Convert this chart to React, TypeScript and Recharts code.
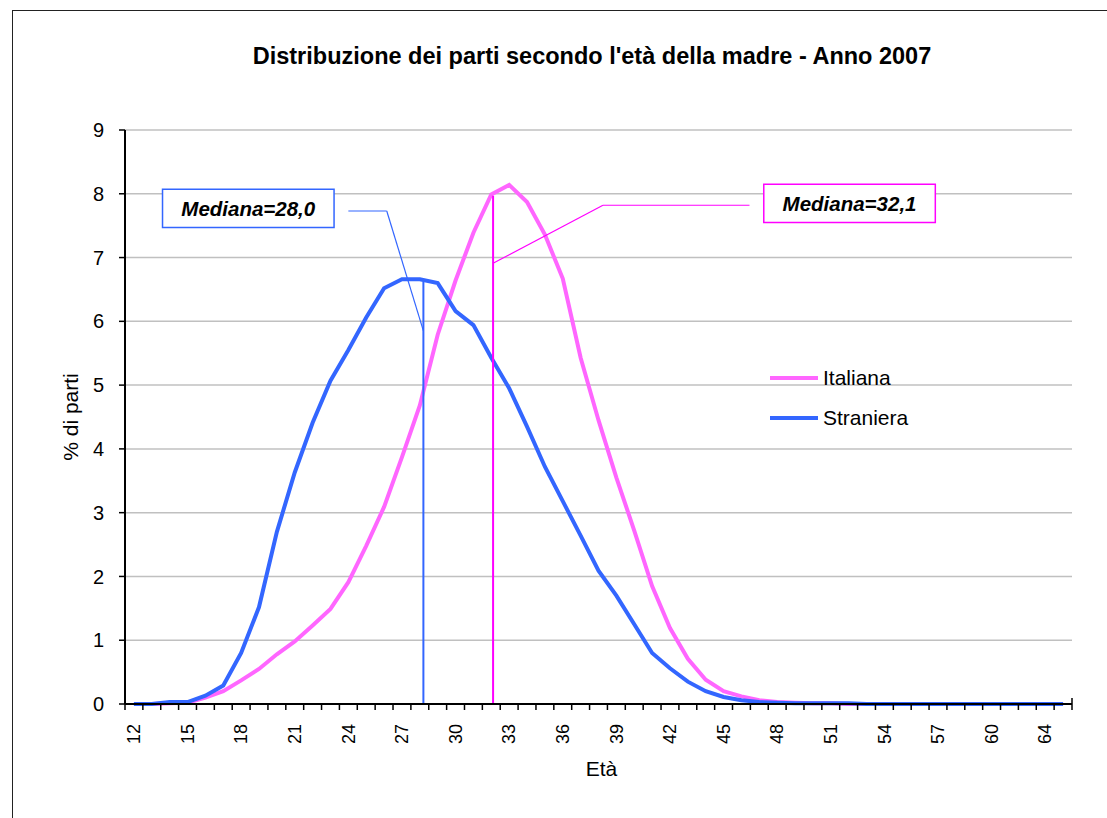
import React from 'react';
import {
  LineChart, Line, XAxis, YAxis, CartesianGrid, Legend, ReferenceLine, ReferenceArea,
} from 'recharts';

// ---- data ----
const ages: string[] = [
  '12','13','14','15','16','17','18','19','20','21',
  '22','23','24','25','26','27','28','29','30','31',
  '32','33','34','35','36','37','38','39','40','41',
  '42','43','44','45','46','47','48','49','50','51',
  '52','53','54','55','56','57','58','59','60','61','62',
  '64','65',
];
const italiana: number[] = [
  0, 0, 0.01, 0.02, 0.1, 0.2, 0.37, 0.55, 0.78, 0.98,
  1.23, 1.49, 1.91, 2.48, 3.09, 3.87, 4.68, 5.79, 6.64, 7.39,
  7.99, 8.14, 7.87, 7.36, 6.67, 5.43, 4.45, 3.55, 2.72, 1.85,
  1.19, 0.71, 0.38, 0.2, 0.12, 0.06, 0.03, 0.02, 0.01, 0.01,
  0, 0, 0, 0, 0, 0, 0, 0, 0, 0, 0,
  0, 0,
];
const straniera: number[] = [
  0, 0, 0.03, 0.03, 0.13, 0.29, 0.8, 1.52, 2.7, 3.63,
  4.41, 5.07, 5.55, 6.06, 6.52, 6.66, 6.66, 6.6, 6.16, 5.94,
  5.43, 4.95, 4.35, 3.72, 3.18, 2.64, 2.09, 1.7, 1.25, 0.8,
  0.56, 0.35, 0.2, 0.11, 0.06, 0.03, 0.02, 0.01, 0.01, 0.01,
  0.01, 0, 0, 0, 0, 0, 0, 0, 0, 0, 0,
  0, 0,
];
const yTicks: number[] = [0, 1, 2, 3, 4, 5, 6, 7, 8, 9];

// median annotations (positions on the age axis / percentages)
const medianText: string[] = ['Mediana=28,0', 'Mediana=32,1'];
const medianAge: number[] = [28.2, 32.1];
const medianTop: number[] = [6.62, 7.97];
const calloutStartX: number[] = [24.0, 46.45];
const calloutElbowX: number[] = [26.15, 38.25];
const calloutY: number[] = [7.73, 7.82];
const calloutEndY: number[] = [5.85, 6.91];
const boxX1: number[] = [13.6, 47.25];
const boxX2: number[] = [23.2, 56.85];
const boxY1: number[] = [7.47, 7.55];
const boxY2: number[] = [8.07, 8.15];

// each category sits at an evenly spaced slot on the axis (12, 13, ... one slot per category)
const FIRST = 12;
const slots: number[] = ages.map((_, i) => FIRST + i);
const data = ages.map((a, i) => ({ pos: slots[i], age: a, Italiana: italiana[i], Straniera: straniera[i] }));

const W = 1107;
const H = 818;
const M = { top: 130, right: 35, bottom: 64, left: 65 };
const Y_W = 60;
const X_H = 50;
const PLOT_W = W - M.left - Y_W - M.right;
const BW = PLOT_W / ages.length;

const PINK = '#ff66ff';
const BLUE = '#3366ff';
const MAGENTA = '#ff00ff';
const annotColor = [BLUE, MAGENTA];
const FONT = '"Liberation Sans", Arial, sans-serif';

const XTick = (props: any) => {
  const { x, y, payload } = props;
  const idx = Math.round(payload.value - FIRST);
  const ty = y + 20;
  return (
    <g>
      <line x1={x - BW / 2} x2={x - BW / 2} y1={y} y2={y + 6} stroke="#000" strokeWidth={1.5} />
      {idx === ages.length - 1 && (
        <line x1={x + BW / 2} x2={x + BW / 2} y1={y - 6} y2={y + 6} stroke="#000" strokeWidth={1.5} />
      )}
      {idx % 3 === 0 && (
        <text
          x={x}
          y={ty}
          dy="0.35em"
          textAnchor="end"
          transform={`rotate(-90 ${x} ${ty})`}
          fontSize={18}
          fill="#000"
          fontFamily={FONT}
        >
          {ages[idx]}
        </text>
      )}
    </g>
  );
};

const boxLabel = (text: string) => (props: any) => {
  const vb = props.viewBox || {};
  return (
    <text
      x={vb.x + vb.width / 2}
      y={vb.y + vb.height / 2}
      dy="0.35em"
      textAnchor="middle"
      fontSize={20.5}
      fontWeight="bold"
      fontStyle="italic"
      fill="#000"
      fontFamily={FONT}
    >
      {text}
    </text>
  );
};

const LegendContent = (props: any) => {
  const items = props.payload || [];
  return (
    <div style={{ fontFamily: FONT, fontSize: 21, color: '#000' }}>
      {items.map((it: any) => (
        <div key={it.value} style={{ display: 'flex', alignItems: 'center', height: 40 }}>
          <div style={{ width: 48, height: 4, background: it.color, marginRight: 5 }} />
          <span>{it.value}</span>
        </div>
      ))}
    </div>
  );
};

export default function App() {
  return (
    <div style={{ position: 'fixed', left: 0, top: 0, width: W, height: H, overflow: 'hidden', background: '#fff', fontFamily: FONT }}>
      <div style={{ position: 'absolute', left: 12, top: 10, width: 1200, height: 900, border: '1.5px solid #222' }} />
      <div
        style={{
          position: 'absolute', left: 192, top: 43, width: 800, textAlign: 'center',
          fontSize: 23.5, lineHeight: '27px', fontWeight: 'bold', color: '#000',
        }}
      >
        Distribuzione dei parti secondo l'età della madre - Anno 2007
      </div>
      <div style={{ position: 'absolute', left: 0, top: 0 }}>
        <LineChart width={W} height={H} data={data} margin={M}>
          <CartesianGrid vertical={false} stroke="#c0c0c0" strokeWidth={1.5} />
          <XAxis
            dataKey="pos"
            type="number"
            domain={[FIRST - 0.5, FIRST + ages.length - 0.5]}
            allowDataOverflow
            ticks={slots}
            interval={0}
            tickSize={0}
            tickMargin={0}
            tickLine={false}
            tick={<XTick />}
            height={X_H}
            axisLine={{ stroke: '#000', strokeWidth: 2 }}
            label={(p: any) => {
              const vb = p.viewBox || {};
              return (
                <text x={vb.x + vb.width / 2 + 3} y={vb.y + 72} textAnchor="middle" fontSize={21} fill="#000" fontFamily={FONT}>
                  Età
                </text>
              );
            }}
          />
          <YAxis
            domain={[0, 9]}
            ticks={yTicks}
            interval={0}
            width={Y_W}
            tickSize={6}
            tickMargin={15}
            tick={{ fill: '#000', fontSize: 20, fontFamily: FONT }}
            tickLine={{ stroke: '#000', strokeWidth: 1.5 }}
            axisLine={{ stroke: '#000', strokeWidth: 2 }}
            label={(p: any) => {
              const vb = p.viewBox || {};
              const lx = vb.x + 6;
              const ly = vb.y + vb.height / 2;
              return (
                <text x={lx} y={ly} dy="0.35em" textAnchor="middle" transform={`rotate(-90 ${lx} ${ly})`} fontSize={21} fill="#000" fontFamily={FONT}>
                  % di parti
                </text>
              );
            }}
          />
          <Legend
            layout="vertical"
            align="center"
            verticalAlign="middle"
            wrapperStyle={{ left: 770, top: 358, width: 200 }}
            content={<LegendContent />}
          />
          <Line type="linear" dataKey="Italiana" name="Italiana" stroke={PINK} strokeWidth={4} dot={false} isAnimationActive={false} />
          <Line type="linear" dataKey="Straniera" name="Straniera" stroke={BLUE} strokeWidth={4} dot={false} isAnimationActive={false} />
          {medianAge.map((m, i) => (
            <ReferenceLine
              key={`v${i}`}
              segment={[{ x: m, y: 0 }, { x: m, y: medianTop[i] }]}
              stroke={annotColor[i]}
              strokeWidth={2}
            />
          ))}
          {medianAge.map((m, i) => (
            <ReferenceLine
              key={`h${i}`}
              segment={[{ x: calloutStartX[i], y: calloutY[i] }, { x: calloutElbowX[i], y: calloutY[i] }]}
              stroke={annotColor[i]}
              strokeWidth={1.2}
            />
          ))}
          {medianAge.map((m, i) => (
            <ReferenceLine
              key={`d${i}`}
              segment={[{ x: calloutElbowX[i], y: calloutY[i] }, { x: m, y: calloutEndY[i] }]}
              stroke={annotColor[i]}
              strokeWidth={1.2}
            />
          ))}
          {medianText.map((t, i) => (
            <ReferenceArea
              key={`b${i}`}
              x1={boxX1[i]}
              x2={boxX2[i]}
              y1={boxY1[i]}
              y2={boxY2[i]}
              fill="#fff"
              fillOpacity={1}
              stroke={annotColor[i]}
              strokeWidth={1.5}
              label={boxLabel(t)}
            />
          ))}
        </LineChart>
      </div>
    </div>
  );
}
